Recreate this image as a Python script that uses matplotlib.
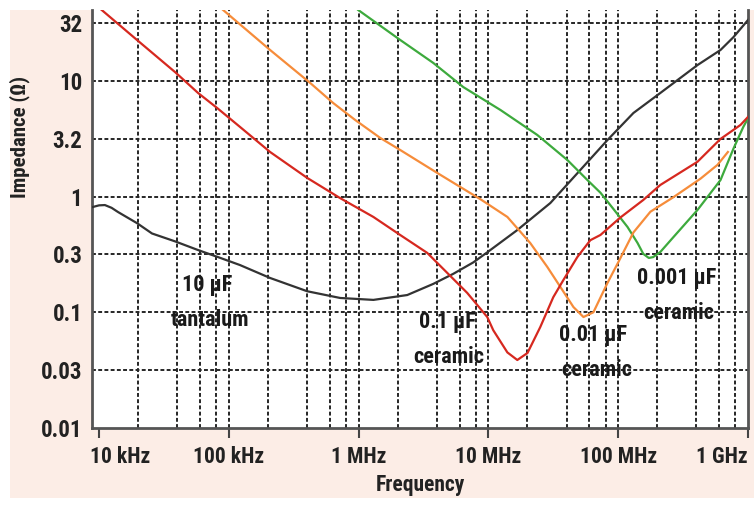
import matplotlib
matplotlib.use("Agg")
import matplotlib.pyplot as plt
import matplotlib.font_manager as fm
import matplotlib.transforms as mtransforms
from matplotlib.patches import Rectangle

# ---------------- data ----------------
tant_f = [8.84e3, 1.0e4, 1.11e4, 1.25e4, 1.40e4, 1.96e4, 2.56e4, 3.86e4, 5.8e4, 8.26e4, 1.22e5, 2.08e5,
          4.02e5, 7.21e5, 1.30e6, 2.37e6, 3.76e6, 5.36e6, 7.65e6, 9.8e6,
          1.67e7, 3.0e7, 5.11e7, 8.26e7, 1.31e8, 2.11e8, 4.08e8, 6.14e8, 7.73e8, 1.0e9]
tant_z = [0.81, 0.84, 0.845, 0.80, 0.736, 0.59, 0.48, 0.41, 0.345, 0.30, 0.256, 0.198,
          0.152, 0.133, 0.128, 0.141, 0.176, 0.215, 0.27, 0.33,
          0.514, 0.88, 1.70, 3.08, 5.28, 7.86, 13.7, 18.5, 23.9, 33.6]

c01_f = [9.3e3, 1.96e4, 3.86e4, 5.8e4, 8.13e4, 1.22e5, 2.08e5, 4.02e5, 7.21e5, 1.30e6,
         2.09e6, 3.38e6, 4.82e6, 6.87e6, 9.8e6, 1.09e7, 1.40e7, 1.67e7,
         2.0e7, 2.51e7, 3.16e7, 3.78e7, 4.84e7, 6.1e7, 7.3e7, 1.04e8, 1.56e8, 2.11e8,
         4.08e8, 6.14e8, 8.75e8, 1.0e9]
c01_z = [46, 22.6, 11.9, 7.86, 5.83, 4.0, 2.43, 1.45, 0.97, 0.667,
         0.466, 0.326, 0.219, 0.147, 0.091, 0.070, 0.045, 0.0387,
         0.0445, 0.0746, 0.135, 0.19, 0.30, 0.42, 0.466, 0.66, 0.935, 1.26,
         2.0, 3.15, 4.16, 4.88]

c001_f = [9.04e4, 2.08e5, 4.24e5, 6.37e5, 9.42e5, 1.47e6, 2.09e6, 4.04e6, 8.67e6, 1.40e7,
          2.1e7, 2.84e7, 3.58e7, 4.52e7, 5.40e7, 6.44e7, 8.26e7, 1.0e8, 1.31e8, 1.77e8,
          2.67e8, 4.31e8, 5.82e8, 7.0e8]
c001_z = [41, 18.5, 9.59, 6.44, 4.59, 3.21, 2.53, 1.60, 0.95, 0.667,
          0.397, 0.247, 0.166, 0.111, 0.091, 0.10, 0.179, 0.27, 0.49, 0.74,
          0.99, 1.43, 1.88, 2.43]

c0001_f = [9.93e5, 2.09e6, 3.76e6, 6.4e6, 1.24e7, 2.38e7, 4.06e7, 5.79e7, 7.3e7, 9.2e7,
           1.18e8, 1.41e8, 1.56e8, 1.72e8, 1.86e8, 2.11e8, 2.67e8, 4.08e8, 6.14e8, 7.73e8,
           9.2e8, 1.0e9]
c0001_z = [41, 22.6, 14.3, 8.85, 5.6, 3.41, 2.07, 1.39, 1.08, 0.78,
           0.546, 0.397, 0.32, 0.295, 0.30, 0.332, 0.448, 0.766, 1.39, 2.6,
           4.0, 4.75]

x_ticks = [1e4, 1e5, 1e6, 1e7, 1e8, 1e9]
x_tick_labels = ['10 kHz', '100 kHz', '1 MHz', '10 MHz', '100 MHz', '1 GHz']
y_ticks = [0.01, 10**-1.5, 0.1, 10**-0.5, 1, 10**0.5, 10, 10**1.5]
y_tick_labels = ['0.01', '0.03', '0.1', '0.3', '1', '3.2', '10', '32']

# ---------------- font: prefer a narrow bold sans ----------------
names = {f.name for f in fm.fontManager.ttflist}
family = None
stretch = 'normal'
scale = 1.0
for cand in ['Liberation Sans Narrow', 'Arial Narrow', 'Nimbus Sans Narrow',
             'Roboto Condensed', 'Open Sans Condensed', 'DejaVu Sans Condensed']:
    if cand in names:
        family = cand
        break
if family is None:
    for f in fm.fontManager.ttflist:
        if f.stretch in ('condensed', 'semi-condensed', 'extra-condensed') or \
                'Condensed' in f.fname or 'Narrow' in f.fname:
            family = f.name
            stretch = 'condensed'
            break
if family is None:
    family = 'Liberation Sans'
    scale = 0.86

plt.rcParams['font.family'] = [family, 'DejaVu Sans']
plt.rcParams['font.weight'] = 'bold'
plt.rcParams['font.stretch'] = stretch

# ---------------- figure ----------------
W, H = 754, 507
fig = plt.figure(figsize=(W / 100, H / 100), dpi=100, facecolor='white')
bg = Rectangle((10 / W, 1 - 498 / H), 1 - 10 / W, (498 - 10) / H,
               transform=fig.transFigure, facecolor='#FCEDE6',
               edgecolor='none', zorder=-10)
fig.add_artist(bg)

ax = fig.add_axes([92 / W, 1 - 428 / H, (748 - 92) / W, (428 - 10) / H])
ax.set_zorder(1)
ax.set_facecolor('white')
ax.set_xscale('log')
ax.set_yscale('log')
ax.set_xlim(8.83e3, 1e9)
ax.set_ylim(0.01, 41)

# grid
grid_kw = dict(color='#262626', lw=1.4, dashes=(2.0, 1.2), zorder=1)
for k in range(4, 9):
    for m in (2, 4, 6, 8, 10):
        v = m * 10 ** k
        if v < 1e9:
            ax.axvline(v, **grid_kw)
for yv in y_ticks[1:]:
    ax.axhline(yv, **grid_kw)

lw = 1.6
ax.plot(tant_f, tant_z, color='#333333', lw=lw, zorder=3, solid_joinstyle='round')
ax.plot(c0001_f, c0001_z, color='#3DAA3D', lw=lw, zorder=3, solid_joinstyle='round')
ax.plot(c001_f, c001_z, color='#F68C3A', lw=lw, zorder=3, solid_joinstyle='round')
ax.plot(c01_f, c01_z, color='#D6281F', lw=lw, zorder=4, solid_joinstyle='round')

# spines
for s in ('left', 'bottom', 'right'):
    ax.spines[s].set_color('#555555')
    ax.spines[s].set_linewidth(2.0)
ax.spines['top'].set_visible(False)

ax.minorticks_off()
ax.set_xticks(x_ticks)
ax.set_xticklabels(x_tick_labels, fontsize=15.5 * scale, fontweight='bold', color='#222222')
ax.set_yticks(y_ticks)
ax.set_yticklabels(y_tick_labels, fontsize=16.5 * scale, fontweight='bold', color='#222222')
ax.tick_params(axis='x', direction='out', length=7, width=1.5, color='#444444', pad=6)
ax.tick_params(axis='y', length=0, pad=7)
xl = ax.get_xticklabels()
xl[0].set_ha('left')
xl[0].set_transform(xl[0].get_transform() +
                    mtransforms.ScaledTranslation(-9 / 100, 0, fig.dpi_scale_trans))
xl[-1].set_ha('right')

ax.set_xlabel('Frequency', fontsize=15.5 * scale, fontweight='bold', color='#222222', labelpad=4)
ax.set_ylabel('Impedance (Ω)', fontsize=15 * scale, fontweight='bold', color='#222222')
ax.yaxis.set_label_coords((30 - 92) / (748 - 92), (428 - 137) / (428 - 10))

# annotations
tkw = dict(ha='center', va='center', fontsize=16 * scale, fontweight='bold',
           color='#1a1a1a', zorder=5)
ax.text(6.81e4, 0.172, '10 µF', **tkw)
ax.text(7.18e4, 0.0857, 'tantalum', **tkw)
ax.text(4.82e6, 0.0824, '0.1 µF', **tkw)
ax.text(4.91e6, 0.0411, 'ceramic', **tkw)
ax.text(6.44e7, 0.0637, '0.01 µF', **tkw)
ax.text(6.79e7, 0.0317, 'ceramic', **tkw)
ax.text(2.81e8, 0.198, '0.001 µF', **tkw)
ax.text(2.91e8, 0.0986, 'ceramic', **tkw)

fig.savefig('out.png', dpi=100, facecolor='white')
